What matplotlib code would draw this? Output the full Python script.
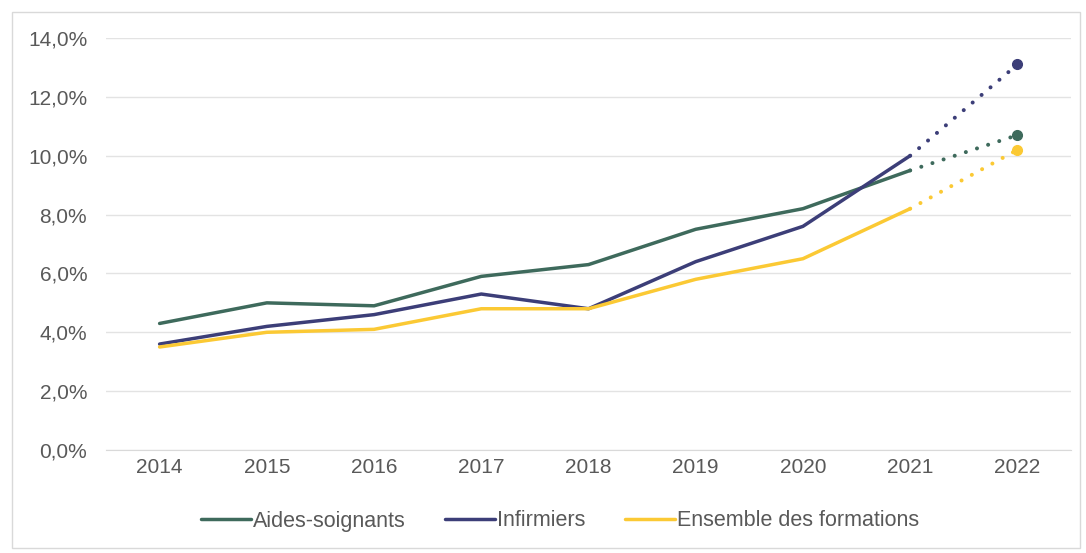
import numpy as np
import matplotlib
matplotlib.use("Agg")
import matplotlib.pyplot as plt
import matplotlib.patches as ptch
from matplotlib.ticker import FuncFormatter

# DATA
years = ['2014', '2015', '2016', '2017', '2018', '2019', '2020', '2021', '2022']
aides = [4.3, 5.0, 4.9, 5.9, 6.3, 7.5, 8.2, 9.5, 10.7]
infirmiers = [3.6, 4.2, 4.6, 5.3, 4.8, 6.4, 7.6, 10.0, 13.1]
ensemble = [3.5, 4.0, 4.1, 4.8, 4.8, 5.8, 6.5, 8.2, 10.2]

series = [('Aides-soignants', aides, '#3e6a5c'),
          ('Infirmiers', infirmiers, '#3c3e78'),
          ('Ensemble des formations', ensemble, '#fbc934')]

plt.rcParams['font.family'] = ['Liberation Sans', 'DejaVu Sans']
fs = 15

fig = plt.figure(figsize=(10.86, 5.53), dpi=100)
ax = fig.add_axes([106/1086, 1 - 450/553, (1071 - 106)/1086, (450 - 38)/553])

# light frame around the whole chart
fig.patches.append(ptch.Rectangle((12/1086, 5/553), 1 - 18/1086, 1 - 17/553,
                                  transform=fig.transFigure, fill=False,
                                  edgecolor='#d9d9d9', lw=1))

x = np.arange(len(years))
lw = 2.5
for name, vals, col in series:
    # solid part up to 2021, dotted projection to 2022
    ax.plot(x[:-1], vals[:-1], color=col, lw=lw, label=name,
            solid_capstyle='round', solid_joinstyle='round')
    ax.plot(x[-2:], vals[-2:], color=col, lw=lw + 0.4,
            linestyle=(0, (0.01, 2.9)), dash_capstyle='round')
    ax.plot(x[-1], vals[-1], 'o', color=col, ms=7)

ax.set_xlim(-0.5, len(years) - 0.5)
ax.set_ylim(0, 14)
ax.set_yticks(np.arange(0, 15, 2))
ax.yaxis.set_major_formatter(FuncFormatter(lambda v, p: ('%.1f%%' % v).replace('.', ',')))
ax.set_xticks(x)
ax.set_xticklabels(years)
ax.grid(axis='y', color='#e3e3e3', lw=1)
ax.set_axisbelow(True)
for s in ['top', 'right', 'left']:
    ax.spines[s].set_visible(False)
ax.spines['bottom'].set_color('#d9d9d9')
ax.tick_params(axis='both', length=0, labelsize=fs, colors='#595959')
ax.tick_params(axis='x', pad=6)
ax.tick_params(axis='y', pad=13.5)

fig.legend(loc='center', bbox_to_anchor=(560/1086, 1 - 521/553), ncol=3,
           frameon=False, fontsize=15.5, handlelength=2.35, handletextpad=0.1,
           columnspacing=1.8, labelcolor='#595959')

fig.savefig('out.png', dpi=100)
